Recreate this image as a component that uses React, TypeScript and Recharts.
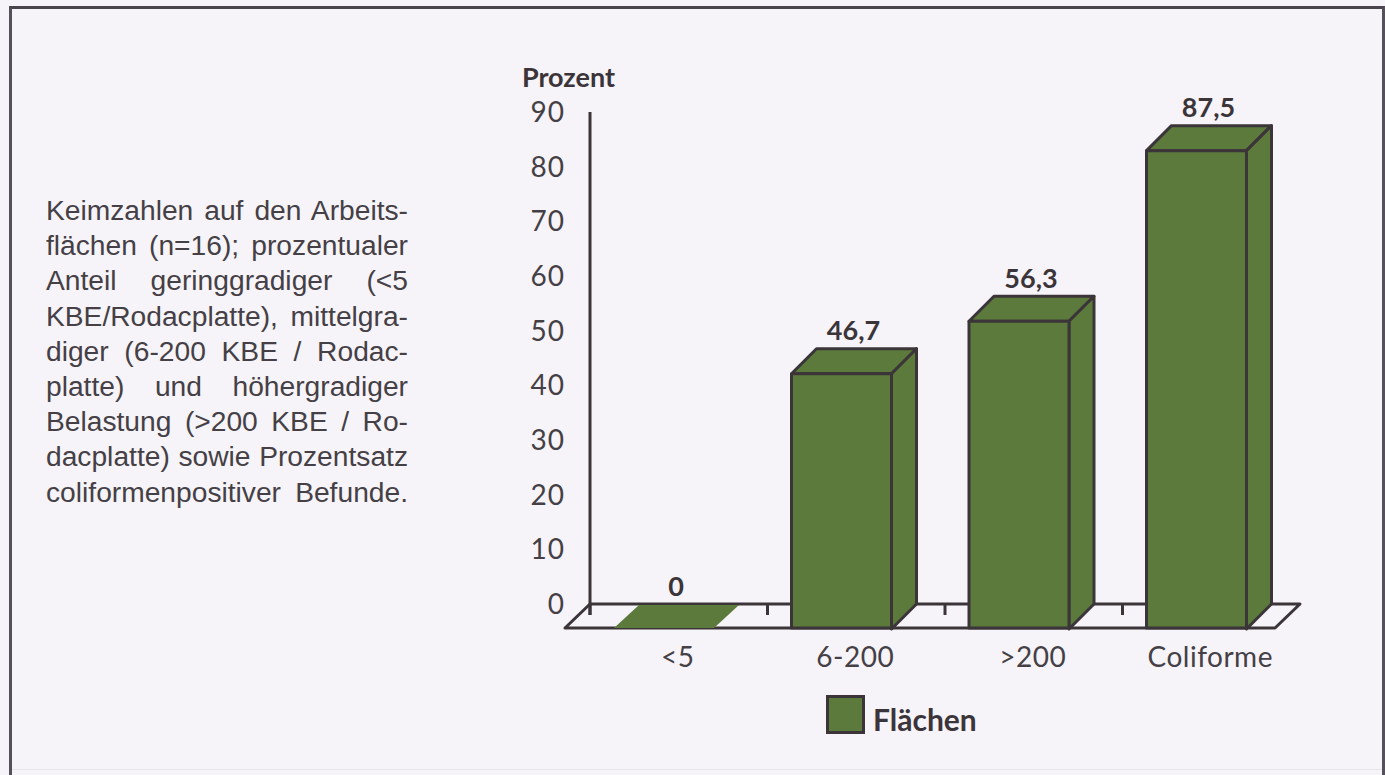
import React from 'react';
import { BarChart, Bar, XAxis, YAxis, Legend, LabelList, usePlotArea } from 'recharts';

const categories = ['<5', '6-200', '>200', 'Coliforme'];
const flaechen = [0, 46.7, 56.3, 87.5];
const yTicks = [0, 10, 20, 30, 40, 50, 60, 70, 80, 90];
const seriesName = 'Flächen';
const captionLines = [
  'Keimzahlen auf den Arbeits-',
  'flächen (n=16); prozentualer',
  'Anteil geringgradiger (<5',
  'KBE/Rodacplatte), mittelgra-',
  'diger (6-200 KBE / Rodac-',
  'platte) und höhergradiger',
  'Belastung (>200 KBE / Ro-',
  'dacplatte) sowie Prozentsatz',
  'coliformenpositiver Befunde.',
];

const data = categories.map((name, i) => ({ name, value: flaechen[i] }));

const INK = '#3b3539';
const TEXT = '#454045';
const GREEN = '#5c7a3c';
const PAPER = '#f6f4f9';
const DEPTH = 25;
const BAR_SHIFT = 10;
const AXIS_FONT = 'Lato, sans-serif';

// the floor of the fake 3d box, sits behind the bars
function Floor() {
  const plot = usePlotArea();
  if (!plot) return null;
  const left = plot.x;
  const right = plot.x + plot.width;
  const back = plot.y + plot.height;
  const front = back + DEPTH - 1;
  return (
    <g>
      <polygon
        points={`${left},${back} ${right},${back} ${right - DEPTH},${front} ${left - DEPTH},${front}`}
        fill={PAPER}
        stroke={INK}
        strokeWidth={3}
        strokeLinejoin="round"
      />
      <line x1={left} x2={left} y1={plot.y} y2={back + 11} stroke={INK} strokeWidth={3} />
    </g>
  );
}

function Box3D({ x, y, width, height }: any) {
  const bx = x + BAR_SHIFT; // back face
  const fx = bx - DEPTH; // front face
  const fy = y + DEPTH;
  const common = { stroke: INK, strokeWidth: 3, strokeLinejoin: 'round' as const };
  if (height < 1) {
    // zero value, only the flat slab on the floor
    return (
      <polygon
        points={`${bx},${y + 1} ${bx + width},${y + 1} ${fx + width},${fy - 1} ${fx},${fy - 1}`}
        fill={GREEN}
      />
    );
  }
  return (
    <g>
      <polygon points={`${fx},${fy} ${bx},${y} ${bx + width},${y} ${fx + width},${fy}`} fill={GREEN} {...common} />
      <polygon
        points={`${fx + width},${fy} ${bx + width},${y} ${bx + width},${y + height} ${fx + width},${fy + height}`}
        fill={GREEN}
        {...common}
      />
      <rect x={fx} y={fy} width={width} height={height - 1} fill={GREEN} {...common} />
    </g>
  );
}

function CategoryTick({ x, y, payload }: any) {
  return (
    <g>
      <line x1={x - payload.offset} x2={x - payload.offset} y1={604} y2={615} stroke={INK} strokeWidth={3} />
      <text x={x - 1} y={y + 2} textAnchor="middle" dominantBaseline="central" fontFamily={AXIS_FONT} fontSize={28} letterSpacing={0.5} fill={TEXT}>
        {payload.value}
      </text>
    </g>
  );
}

function ValueLabel({ x, y, width, value }: any) {
  return (
    <text x={x + width / 2 - 3} y={y - 19} textAnchor="middle" dominantBaseline="central" fontFamily={AXIS_FONT} fontWeight={700} fontSize={27} fill={INK}>
      {String(value).replace('.', ',')}
    </text>
  );
}

function LegendBox({ payload }: any) {
  const item = payload && payload[0];
  if (!item) return null;
  return (
    <div style={{ display: 'flex', alignItems: 'center', height: 37 }}>
      <span style={{ width: 33, height: 33, background: GREEN, border: `3px solid ${INK}`, boxSizing: 'content-box', marginRight: 8, marginLeft: -1 }} />
      <span style={{ fontFamily: AXIS_FONT, fontWeight: 700, fontSize: 30, color: INK, position: 'relative', top: 4 }}>{item.value}</span>
    </div>
  );
}

function AxisTitle({ viewBox }: any) {
  return (
    <text x={viewBox.x + viewBox.width + 25} y={viewBox.y - 36} textAnchor="end" dominantBaseline="central" fontFamily={AXIS_FONT} fontWeight={700} fontSize={27} fill={INK}>
      Prozent
    </text>
  );
}

export default function App() {
  return (
    <div style={{ position: 'fixed', left: 0, top: 0, width: 1385, height: 775, background: PAPER, overflow: 'hidden' }}>
      <div style={{ position: 'absolute', left: 9, top: 6, width: 1376, height: 770, borderLeft: '3px solid #55505a', borderTop: '3px solid #4a454d', borderRight: '3px solid #55505a', boxSizing: 'border-box' }} />
      <div style={{ position: 'absolute', left: 12, top: 769, width: 1370, height: 1, background: '#e6e4e8' }} />
      <div style={{ position: 'absolute', left: 46, top: 193, width: 362, fontFamily: '"Liberation Sans", Arial, sans-serif', fontSize: 28.2, lineHeight: '35.2px', color: TEXT }}>
        {captionLines.map((line) => (
          <div key={line} style={{ textAlign: 'justify', textAlignLast: 'justify', whiteSpace: 'nowrap' }}>
            {line}
          </div>
        ))}
      </div>
      <div style={{ position: 'absolute', left: 0, top: 0 }}>
        <BarChart
          width={1385}
          height={775}
          data={data}
          margin={{ top: 112, right: 85, bottom: 74, left: 0 }}
          barCategoryGap={39}
        >
          <Floor />
          <XAxis
            dataKey="name"
            axisLine={false}
            tickLine={false}
            tickSize={0}
            tickMargin={50}
            interval={0}
            height={60}
            tick={<CategoryTick />}
          />
          <YAxis
            width={590}
            domain={[0, 90]}
            ticks={yTicks}
            interval={0}
            axisLine={false}
            tickLine={false}
            tickSize={0}
            tickMargin={25}
            tick={{ fontFamily: AXIS_FONT, fontSize: 28, letterSpacing: 1, fill: TEXT }}
            label={{ content: <AxisTitle /> }}
          />
          <Legend
            content={<LegendBox />}
            layout="horizontal"
            wrapperStyle={{ position: 'absolute', left: 827, top: 696, width: 200 }}
          />
          <Bar dataKey="value" name={seriesName} fill={GREEN} shape={<Box3D />} isAnimationActive={false}>
            <LabelList dataKey="value" content={<ValueLabel />} />
          </Bar>
        </BarChart>
      </div>
    </div>
  );
}
